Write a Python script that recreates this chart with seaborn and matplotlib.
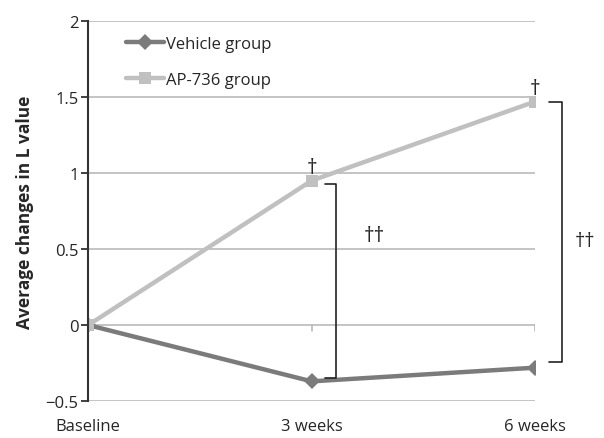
import seaborn as sns
import matplotlib.pyplot as plt
import pandas as pd

# data
timepoints = ["Baseline", "3 weeks", "6 weeks"]
vehicle = [0.0, -0.37, -0.28]
ap736 = [0.0, 0.95, 1.47]
group_names = ["Vehicle group", "AP-736 group"]

df = pd.DataFrame({
    "time": timepoints * 2,
    "x": list(range(len(timepoints))) * 2,
    "value": vehicle + ap736,
    "group": [group_names[0]] * 3 + [group_names[1]] * 3,
})

sns.set_style("white")
plt.rcParams["font.family"] = ["Open Sans", "DejaVu Sans"]

fig = plt.figure(figsize=(6.04, 4.39), dpi=100)
ax = fig.add_axes([0.146, 0.084, 0.740, 0.866])

palette = {group_names[0]: "#7b7b7b", group_names[1]: "#c0c0c0"}
sns.lineplot(data=df, x="x", y="value", hue="group", style="group",
             markers={group_names[0]: "D", group_names[1]: "s"}, dashes=False,
             palette=palette, linewidth=3.2, markersize=8, markeredgewidth=0,
             ax=ax)

# gridlines (Excel style)
for yv in [0.5, 1.0, 1.5, 2.0, -0.5]:
    ax.axhline(yv, color="#b4b4b4", lw=1.1, zorder=0)
ax.axhline(0, color="#b4b4b4", lw=1.1, zorder=0)
# small category ticks hanging from the zero line
for i in range(1, len(timepoints)):
    ax.plot([i, i], [0, -0.04], color="#b4b4b4", lw=1.1, zorder=0)

ax.set_xlim(0, 2)
ax.set_ylim(-0.5, 2)
ax.set_yticks([-0.5, 0, 0.5, 1, 1.5, 2])
ax.set_yticklabels(["\u22120.5", "0", "0.5", "1", "1.5", "2"], fontsize=12)
ax.set_xticks(range(len(timepoints)))
ax.set_xticklabels(timepoints, fontsize=12)
ax.tick_params(axis="x", length=0, pad=12)
ax.tick_params(axis="y", length=5, width=1.3, color="#333333", direction="out", left=True, pad=2)
for s in ["top", "right", "bottom"]:
    ax.spines[s].set_visible(False)
ax.spines["left"].set_color("#333333")
ax.spines["left"].set_linewidth(1.5)

ax.set_xlabel("")
ax.set_ylabel("Average changes in L value", fontsize=12.5, fontweight="bold", labelpad=8)

# significance marks
ax.text(1, ap736[1] + 0.02, "\u2020", ha="center", va="bottom", fontsize=15)
ax.text(2, ap736[2] + 0.02, "\u2020", ha="center", va="bottom", fontsize=15)

def bracket(x0, x1, ytop, ybot):
    ax.plot([x0, x1, x1, x0], [ytop, ytop, ybot, ybot], color="#222222", lw=1.2,
            clip_on=False)

bracket(1.06, 1.11, ap736[1] - 0.02, vehicle[1] + 0.02)
ax.text(1.28, 0.59, "\u2020\u2020", ha="center", va="center", fontsize=15)
bracket(2.06, 2.12, ap736[2], vehicle[2] + 0.04)
ax.text(2.225, 0.55, "\u2020\u2020", ha="center", va="center", fontsize=14.5,
        clip_on=False)

leg = ax.legend(loc="upper left", bbox_to_anchor=(0.05, 1.0), frameon=False,
                fontsize=12, handlelength=2.3, handletextpad=0.1,
                labelspacing=1.2)

fig.savefig("out.png", dpi=100)
